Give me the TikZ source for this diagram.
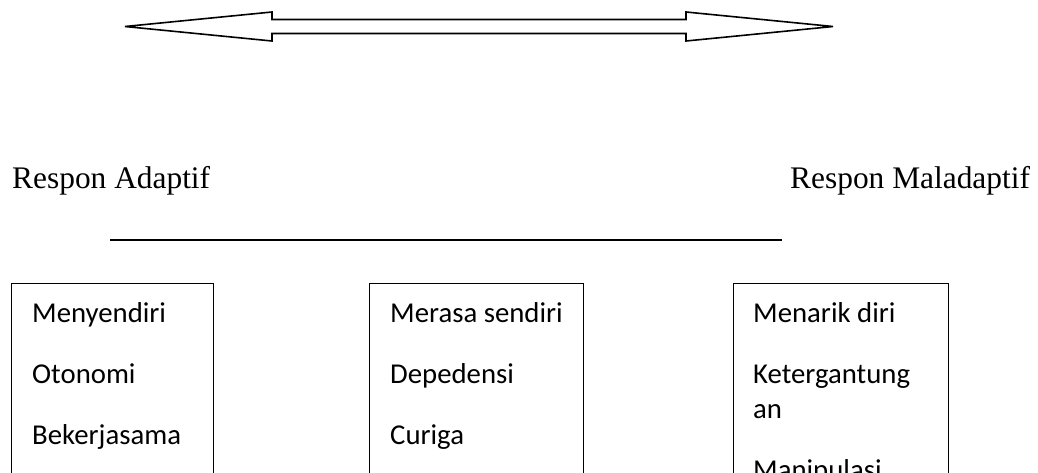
\documentclass[tikz,border=0pt]{standalone}
\usepackage{fontspec}
\setmainfont{Liberation Serif}
\newfontfamily\calfont{Carlito}
\begin{document}
\begin{tikzpicture}[x=1pt,y=-1pt,
  lbl/.style={anchor=base west,inner sep=0pt,font=\fontsize{31.4}{36}\selectfont},
  itm/.style={anchor=base west,inner sep=0pt,font=\calfont\fontsize{28.75}{34}\selectfont},
  colbox/.style={draw,line width=1.3pt,anchor=north west,inner sep=0pt,minimum height=260pt}]
\useasboundingbox (0,0) rectangle (1038,472);
\clip (0,0) rectangle (1038,472);
% double arrow
\draw[line width=1.6pt,line join=miter]
  (125,26.5) -- (272,12) -- (272,19.5) -- (686,19.5) -- (686,12) -- (833,26.5)
  -- (686,41) -- (686,33.5) -- (272,33.5) -- (272,41) -- cycle;
% labels
\node[lbl] (adaptif) at (12,188) {Respon Adaptif};
\node[lbl] (maladaptif) at (790,188) {Respon Maladaptif};
\coordinate (lineL) at (110,240);
\coordinate (lineR) at (782,240);
\draw[line width=1.6pt] (lineL) -- (lineR);
% boxes
\node[colbox,minimum width=202pt] (box1) at (11,283) {};
\node[colbox,minimum width=214pt] (box2) at (369,283) {};
\node[colbox,minimum width=215pt] (box3) at (733,283) {};
% box 1
\node[itm] (a1) at (32,322) {Menyendiri};
\node[itm] (a2) at (32,383) {Otonomi};
\node[itm] (a3) at (32,444) {Bekerjasama};
% box 2
\node[itm] (b1) at (390,322) {Merasa sendiri};
\node[itm] (b2) at (390,383) {Depedensi};
\node[itm] (b3) at (390,444) {Curiga};
% box 3
\node[itm] (c1) at (753,322) {Menarik diri};
\node[itm] (c2) at (753,383) {Ketergantung};
\node[itm] (c3) at (753,418) {an};
\node[itm] (c4) at (753,479) {Manipulasi};
\end{tikzpicture}
\end{document}
